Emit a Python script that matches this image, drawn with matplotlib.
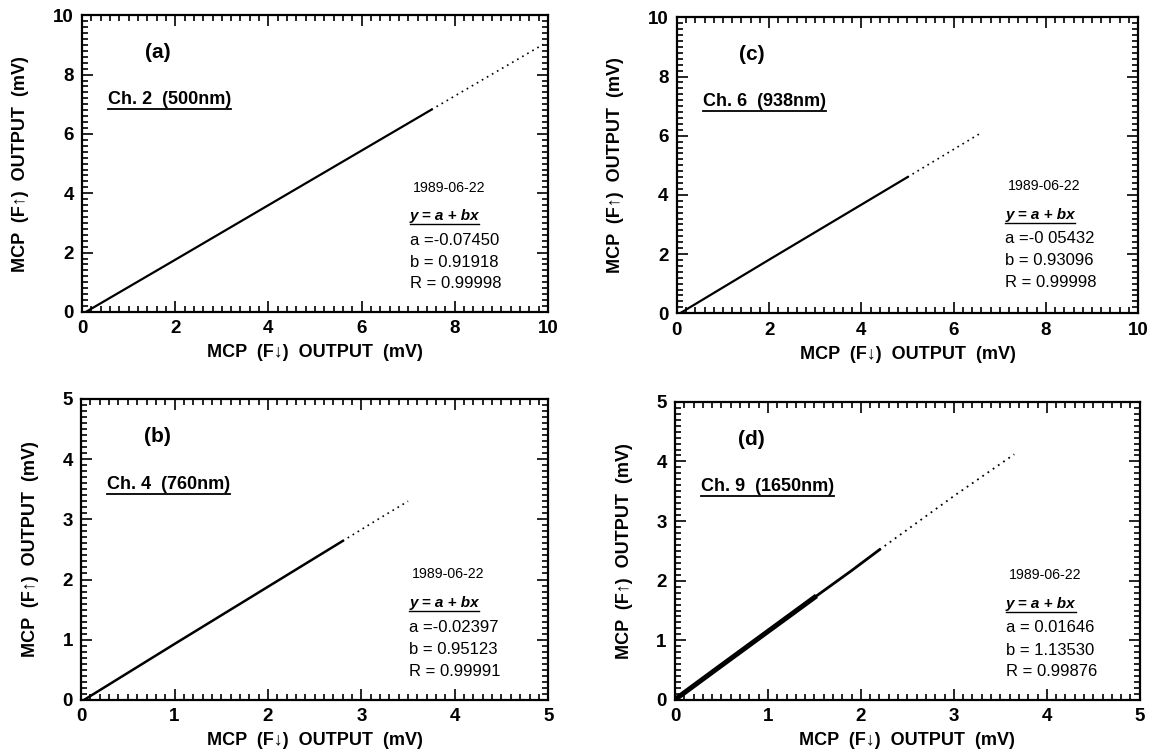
import matplotlib
matplotlib.use("Agg")
import matplotlib.pyplot as plt
from matplotlib.ticker import MultipleLocator

plt.rcParams['font.family'] = ['Liberation Sans', 'DejaVu Sans']

# Daten (Anfang des dichten Teils -> Ende, dann der gepunktete Rest)
a_x = [0.08, 2.0, 4.0, 6.0, 7.5]
a_y = [0.0, 1.76, 3.60, 5.44, 6.82]
a_tail_x = [7.5, 8.5, 9.9]
a_tail_y = [6.82, 7.74, 9.02]

b_x = [0.03, 1.0, 2.0, 2.8]
b_y = [0.0, 0.93, 1.88, 2.64]
b_tail_x = [2.8, 3.2, 3.5]
b_tail_y = [2.64, 3.02, 3.30]

c_x = [0.07, 2.0, 4.0, 5.0]
c_y = [0.0, 1.81, 3.67, 4.60]
c_tail_x = [5.0, 5.8, 6.6]
c_tail_y = [4.60, 5.35, 6.10]

d_x = [0.02, 0.5, 1.0, 1.5]
d_y = [0.03, 0.58, 1.15, 1.72]
d_x2 = [1.5, 1.9, 2.2]
d_y2 = [1.72, 2.17, 2.52]
d_tail_x = [2.2, 3.0, 3.65]
d_tail_y = [2.52, 3.42, 4.12]

labels = ['(a)', '(b)', '(c)', '(d)']
channels = ['Ch. 2  (500nm)', 'Ch. 4  (760nm)', 'Ch. 6  (938nm)', 'Ch. 9  (1650nm)']
dates = ['1989-06-22'] * 4
coef_a = ['-0.07450', '-0.02397', '-0 05432', ' 0.01646']
coef_b = ['0.91918', '0.95123', '0.93096', '1.13530']
coef_r = ['0.99998', '0.99991', '0.99998', '0.99876']
limits = [10, 5, 10, 5]

fig = plt.figure(figsize=(11.59, 7.53), dpi=100)
boxes = [
    [0.0708, 0.5857, 0.402, 0.394],
    [0.0700, 0.0704, 0.403, 0.400],
    [0.5840, 0.5840, 0.398, 0.393],
    [0.5824, 0.0704, 0.401, 0.396],
]
axes = [fig.add_axes(b) for b in boxes]

def style_axis(ax, lim):
    ax.set_xlim(0, lim)
    ax.set_ylim(0, lim)
    step = 2 if lim == 10 else 1
    ax.xaxis.set_major_locator(MultipleLocator(step))
    ax.yaxis.set_major_locator(MultipleLocator(step))
    ax.xaxis.set_minor_locator(MultipleLocator(step / 10))
    ax.yaxis.set_minor_locator(MultipleLocator(step / 10))
    ax.tick_params(which='both', direction='in', top=True, right=True, width=1.2)
    ax.tick_params(which='major', length=8, labelsize=13.5, pad=6)
    ax.tick_params(which='minor', length=4)
    for lab in ax.get_xticklabels() + ax.get_yticklabels():
        lab.set_fontweight('bold')
    for sp in ax.spines.values():
        sp.set_linewidth(1.6)
    ax.set_xlabel('MCP  (F\u2193)  OUTPUT  (mV)', fontsize=13, fontweight='bold', labelpad=5)
    ax.set_ylabel('MCP  (F\u2191)  OUTPUT  (mV)', fontsize=13, fontweight='bold', labelpad=17)

# dichter Teil + gepunkteter Rest
axes[0].plot(a_x, a_y, color='black', lw=1.6)
axes[0].plot(a_tail_x, a_tail_y, color='black', lw=1.2, ls=(0, (1, 2.5)))
axes[1].plot(b_x, b_y, color='black', lw=1.8)
axes[1].plot(b_tail_x, b_tail_y, color='black', lw=1.2, ls=(0, (1, 2.5)))
axes[2].plot(c_x, c_y, color='black', lw=1.6)
axes[2].plot(c_tail_x, c_tail_y, color='black', lw=1.2, ls=(0, (1, 2.5)))
axes[3].plot(d_x, d_y, color='black', lw=3.6)
axes[3].plot(d_x2, d_y2, color='black', lw=2.0)
axes[3].plot(d_tail_x, d_tail_y, color='black', lw=1.3, ls=(0, (1, 2.5)))

underline = []
for i, ax in enumerate(axes):
    lim = limits[i]
    style_axis(ax, lim)
    ax.text(0.135, 0.855, labels[i], transform=ax.transAxes, fontsize=15, fontweight='bold')
    t = ax.text(0.056, 0.70, channels[i], transform=ax.transAxes, fontsize=13, fontweight='bold')
    underline.append((ax, t, 1.3))
    x0 = 0.703 if i in (0, 1) else 0.712
    y0 = 0.405 if i != 2 else 0.415
    ax.text(x0 + 0.006, y0, dates[i], transform=ax.transAxes, fontsize=10.2)
    t = ax.text(x0, y0 - 0.095, 'y = a + bx', transform=ax.transAxes, fontsize=11,
                fontweight='bold', style='italic')
    underline.append((ax, t, 1.0))
    ax.text(x0, y0 - 0.178, 'a =' + coef_a[i], transform=ax.transAxes, fontsize=12)
    ax.text(x0, y0 - 0.253, 'b = ' + coef_b[i], transform=ax.transAxes, fontsize=12)
    ax.text(x0, y0 - 0.325, 'R = ' + coef_r[i], transform=ax.transAxes, fontsize=12)

# Unterstreichungen nach Textbreite
fig.canvas.draw()
r = fig.canvas.get_renderer()
for ax, t, lw in underline:
    bb = t.get_window_extent(r).transformed(ax.transAxes.inverted())
    ax.plot([bb.x0, bb.x1], [bb.y0 - 0.004, bb.y0 - 0.004], transform=ax.transAxes,
            color='black', lw=lw, clip_on=False)

fig.savefig('out.png', dpi=100)
